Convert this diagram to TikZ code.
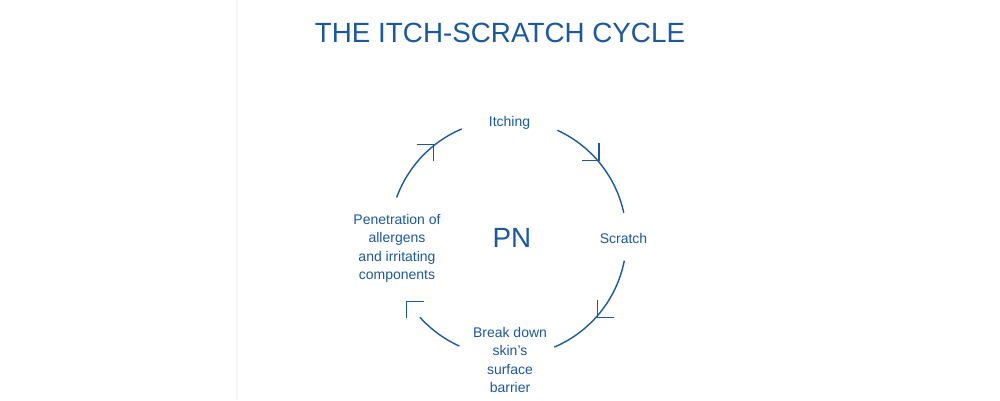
\documentclass[tikz,border=0pt]{standalone}
\usepackage{fontspec}
\setmainfont{Liberation Sans}
\definecolor{cycleblue}{RGB}{28,88,156}
\begin{document}
\begin{tikzpicture}[
        x=1pt, y=1pt,
        label/.style={text=cycleblue, font=\fontsize{14}{18.5}\selectfont, align=center, inner sep=0pt},
        big/.style={text=cycleblue, font=\fontsize{27.8}{33}\selectfont, inner sep=0pt},
        cyc/.style={draw=cycleblue, line width=1.4pt}
    ]
    \useasboundingbox (0,0) rectangle (1000,400);
    \draw[gray!8, line width=2pt] (237,0) -- (237,400);
    \node[big, anchor=base] (title) at (500,357) {THE ITCH-SCRATCH CYCLE};
    \coordinate (o) at (508,162);
    \node[big, anchor=base] (pn) at (512,153) {PN};
    \node[label, anchor=base] (itch) at (509.5,274) {Itching};
    \node[label, anchor=base] (scratch) at (623.5,157) {Scratch};
    \node[label, anchor=north] (barrier) at (510,73) {Break down\\skin’s\\surface\\barrier};
    \node[label, anchor=north] (pen) at (397,186) {Penetration of\\allergens\\and irritating\\components};
    % arcs of the cycle
    \draw[cyc] ([shift={(160:118.5)}]o) arc[start angle=160, end angle=113, radius=118.5pt];
    \draw[cyc] ([shift={(65.4:118.5)}]o) arc[start angle=65.4, end angle=12.3, radius=118.5pt];
    \draw[cyc] ([shift={(-11:118.5)}]o) arc[start angle=-11, end angle=-67, radius=118.5pt];
    \draw[cyc] ([shift={(245.8:118.5)}]o) arc[start angle=245.8, end angle=222, radius=118.5pt];
    % heads
    \foreach \a/\dx/\dy in {128.5/-17/-17, 40.5/-17/17, -41.6/17/17, 212/17/-17}
        \draw[cyc] ([shift={(\a:119.5)}]o) ++(\dx,0) -- ++(-\dx,0) -- ++(0,\dy);
\end{tikzpicture}
\end{document}
